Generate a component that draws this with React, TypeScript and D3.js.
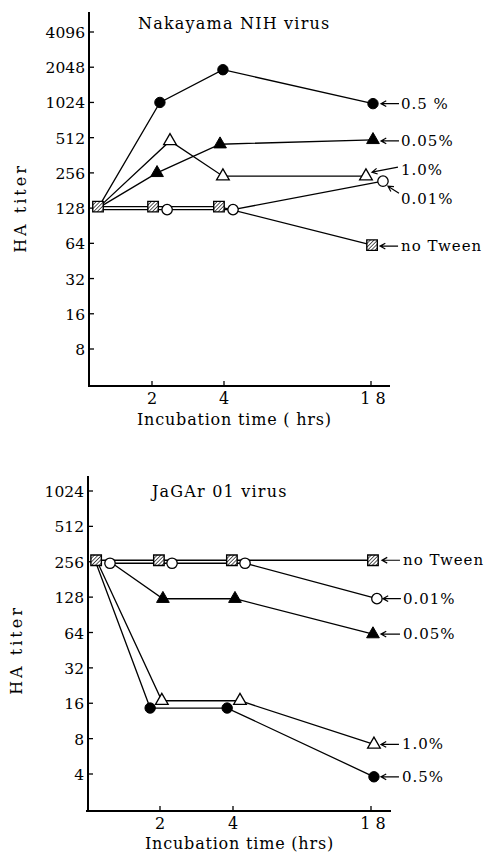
import React from "react";
import * as d3 from "d3";

// ---------- DATA ----------
// Nakayama NIH virus (times as plotted, hrs; HA titer)
const nihTime05 = [0.5, 2.22, 3.97, 18.19];
const nihTiter05 = [128, 1024, 1950, 1000];
const nihTime005 = [0.5, 2.14, 3.89, 18.19];
const nihTiter005 = [128, 256, 450, 490];
const nihTime10 = [0.5, 2.5, 3.97, 17.52];
const nihTiter10 = [128, 480, 240, 240];
const nihTime001 = [0.5, 2.42, 4.86, 19.14];
const nihTiter001 = [128, 128, 128, 224];
const nihTimeNone = [0.5, 2.03, 3.86, 18.1];
const nihTiterNone = [128, 128, 128, 60];

// JaGAr 01 virus
const jagTime05 = [0.25, 1.73, 3.84, 18.3];
const jagTiter05 = [256, 15, 15, 3.9];
const jagTime005 = [0.63, 2.08, 4.2, 18.2];
const jagTiter005 = [256, 124, 124, 62];
const jagTime10 = [0.25, 2.05, 4.71, 18.3];
const jagTiter10 = [256, 16, 16, 6.8];
const jagTime001 = [0.63, 2.33, 5.22, 18.6];
const jagTiter001 = [256, 256, 256, 128];
const jagTimeNone = [0.25, 1.97, 3.97, 18.2];
const jagTiterNone = [256, 256, 256, 256];

const nihLabels = ["0.5 %", "0.05%", "1.0%", "0.01%", "no Tween"];
const jagLabels = ["0.5%", "0.05%", "1.0%", "0.01%", "no Tween"];
const markerTypes = ["filledCircle", "filledTri", "openTri", "openCircle", "hatchSquare"];

const nihYTicks = [8, 16, 32, 64, 128, 256, 512, 1024, 2048, 4096];
const jagYTicks = [4, 8, 16, 32, 64, 128, 256, 512, 1024];
const xTickValues = [2, 4, 18];
const xTickLabels = ["2", "4", "1 8"];

// ---------- LAYOUT / STYLE ----------
const FONT = "'DejaVu Serif', 'Liberation Serif', 'Times New Roman', serif";

type LabelLayout = { hx: number; hy: number; tx: number; ty: number; lx: number; ly: number };

const nihLabelLayout: LabelLayout[] = [
  { hx: 8, hy: 0, tx: 26, ty: 0, lx: 28, ly: 5 },
  { hx: 8, hy: 1, tx: 26, ty: 1, lx: 28, ly: 6 },
  { hx: 6, hy: -4, tx: 32, ty: -9, lx: 35, ly: -1 },
  { hx: 5, hy: 5, tx: 16, ty: 12, lx: 18, ly: 23 },
  { hx: 8, hy: 1, tx: 26, ty: 1, lx: 29, ly: 6 },
];
const jagLabelLayout: LabelLayout[] = [
  { hx: 7, hy: 0, tx: 25, ty: 0, lx: 28, ly: 5 },
  { hx: 8, hy: 0, tx: 27, ty: 0, lx: 30, ly: 5 },
  { hx: 7, hy: 0, tx: 25, ty: 0, lx: 28, ly: 5 },
  { hx: 6, hy: 0, tx: 24, ty: 0, lx: 26, ly: 5 },
  { hx: 9, hy: 0, tx: 27, ty: 0, lx: 30, ly: 5 },
];
const nihDy = [0, 0, 0, 1.5, -1.5];
const jagDy = [1.5, 0, -2.5, 1.5, -1.5];
// whether a series draws its own marker at the starting point
const nihStartMarker = [false, false, false, false, true];
const jagStartMarker = [false, false, false, true, true];

type ChartCfg = {
  title: string;
  titleX: number;
  titleY: number;
  xLabel: string;
  xLabelX: number;
  xLabelY: number;
  yTitleX: number;
  yTitleY: number;
  axisX: number;
  axisTop: number;
  axisBottom: number;
  axisLeft: number;
  axisRight: number;
  xScale: d3.ScaleLinear<number, number>;
  yScale: d3.ScaleLogarithmic<number, number>;
  yTicks: number[];
  times: number[][];
  titers: number[][];
  labels: string[];
  labelLayout: LabelLayout[];
  dy: number[];
  startMarker: boolean[];
};

const nihChart: ChartCfg = {
  title: "Nakayama NIH virus",
  titleX: 138,
  titleY: 29,
  xLabel: "Incubation time ( hrs)",
  xLabelX: 137,
  xLabelY: 425,
  yTitleX: 26,
  yTitleY: 208,
  axisX: 89,
  axisTop: 12,
  axisBottom: 386,
  axisLeft: 88,
  axisRight: 390,
  xScale: d3.scaleLinear().domain([0, 4, 18]).range([80, 224, 371]),
  yScale: d3.scaleLog().base(2).domain([8, 4096]).range([349, 32]),
  yTicks: nihYTicks,
  times: [nihTime05, nihTime005, nihTime10, nihTime001, nihTimeNone],
  titers: [nihTiter05, nihTiter005, nihTiter10, nihTiter001, nihTiterNone],
  labels: nihLabels,
  labelLayout: nihLabelLayout,
  dy: nihDy,
  startMarker: nihStartMarker,
};

const jagChart: ChartCfg = {
  title: "JaGAr 01 virus",
  titleX: 152,
  titleY: 497,
  xLabel: "Incubation time (hrs)",
  xLabelX: 145,
  xLabelY: 849,
  yTitleX: 22,
  yTitleY: 650,
  axisX: 88,
  axisTop: 476,
  axisBottom: 811,
  axisLeft: 86,
  axisRight: 391,
  xScale: d3.scaleLinear().domain([0, 4, 18]).range([87, 233, 371]),
  yScale: d3.scaleLog().base(2).domain([4, 1024]).range([774, 491]),
  yTicks: jagYTicks,
  times: [jagTime05, jagTime005, jagTime10, jagTime001, jagTimeNone],
  titers: [jagTiter05, jagTiter005, jagTiter10, jagTiter001, jagTiterNone],
  labels: jagLabels,
  labelLayout: jagLabelLayout,
  dy: jagDy,
  startMarker: jagStartMarker,
};

const triPath = d3.symbol().type(d3.symbolTriangle).size(70)() as string;
const circPath = d3.symbol().type(d3.symbolCircle).size(85)() as string;
const sqPath = d3.symbol().type(d3.symbolSquare).size(110)() as string;

function Marker({ type, x, y }: { type: string; x: number; y: number }) {
  const t = `translate(${x},${y})`;
  if (type === "filledCircle") return <path d={circPath} transform={t} fill="#000" stroke="#000" strokeWidth={1} />;
  if (type === "openCircle") return <path d={circPath} transform={t} fill="#fff" stroke="#000" strokeWidth={1.3} />;
  if (type === "filledTri") return <path d={triPath} transform={t} fill="#000" stroke="#000" strokeWidth={1} />;
  if (type === "openTri") return <path d={triPath} transform={t} fill="#fff" stroke="#000" strokeWidth={1.3} />;
  return <path d={sqPath} transform={t} fill="url(#hatch)" stroke="#000" strokeWidth={1.4} />;
}

function Arrow({ hx, hy, tx, ty }: { hx: number; hy: number; tx: number; ty: number }) {
  const ang = Math.atan2(ty - hy, tx - hx);
  const a1 = ang + 0.5;
  const a2 = ang - 0.5;
  const L = 6;
  const d = `M${tx},${ty}L${hx},${hy}M${hx + L * Math.cos(a1)},${hy + L * Math.sin(a1)}L${hx},${hy}L${hx + L * Math.cos(a2)},${hy + L * Math.sin(a2)}`;
  return <path d={d} fill="none" stroke="#000" strokeWidth={1.2} />;
}

const textStyle = { fontFamily: FONT };

function Chart({ c }: { c: ChartCfg }) {
  const line = d3
    .line<[number, number]>()
    .x((d) => d[0])
    .y((d) => d[1]);
  const pts = c.times.map((ts, i) =>
    ts.map((t, j) => [c.xScale(t), c.yScale(c.titers[i][j]) + c.dy[i]] as [number, number])
  );
  return (
    <g style={textStyle} fill="#000">
      {/* axes */}
      <line x1={c.axisX} x2={c.axisX} y1={c.axisTop} y2={c.axisBottom + 1} stroke="#000" strokeWidth={2} />
      <line x1={c.axisLeft} x2={c.axisRight} y1={c.axisBottom} y2={c.axisBottom} stroke="#000" strokeWidth={2} />
      {c.yTicks.map((v) => (
        <g key={v}>
          <line x1={c.axisX} x2={c.axisX + 5} y1={c.yScale(v)} y2={c.yScale(v)} stroke="#000" strokeWidth={1.3} />
          <text x={c.axisX - 4} y={c.yScale(v) + 6} textAnchor="end" fontSize={15.5} style={textStyle}>
            {String(v)}
          </text>
        </g>
      ))}
      {xTickValues.map((v, i) => (
        <g key={v}>
          <line x1={c.xScale(v)} x2={c.xScale(v)} y1={c.axisBottom} y2={c.axisBottom - 5} stroke="#000" strokeWidth={1.3} />
          <text
            x={c.xScale(v) + (i === 2 ? 2 : 0)}
            y={c.axisBottom + 18}
            textAnchor="middle"
            fontSize={16}
            style={textStyle}
          >
            {xTickLabels[i]}
          </text>
        </g>
      ))}
      <text x={c.titleX} y={c.titleY} fontSize={16} letterSpacing={1.2} style={textStyle}>
        {c.title}
      </text>
      <text x={c.xLabelX} y={c.xLabelY} fontSize={16} letterSpacing={0.8} style={textStyle}>
        {c.xLabel}
      </text>
      <text
        transform={`translate(${c.yTitleX},${c.yTitleY}) rotate(-90)`}
        textAnchor="middle"
        fontSize={16}
        letterSpacing={3}
        style={textStyle}
      >
        HA titer
      </text>
      {/* lines */}
      {pts.map((p, i) => (
        <path key={"l" + i} d={line(p) as string} fill="none" stroke="#000" strokeWidth={1.3} />
      ))}
      {/* markers */}
      {pts.map((p, i) =>
        p.map((q, j) =>
          j === 0 && !c.startMarker[i] ? null : (
            <Marker key={"m" + i + "-" + j} type={markerTypes[i]} x={q[0]} y={q[1]} />
          )
        )
      )}
      {/* labels */}
      {pts.map((p, i) => {
        const last = p[p.length - 1];
        const L = c.labelLayout[i];
        return (
          <g key={"lab" + i}>
            <Arrow hx={last[0] + L.hx} hy={last[1] + L.hy} tx={last[0] + L.tx} ty={last[1] + L.ty} />
            <text x={last[0] + L.lx} y={last[1] + L.ly} fontSize={15} letterSpacing={1} style={textStyle}>
              {c.labels[i]}
            </text>
          </g>
        );
      })}
    </g>
  );
}

export default function App() {
  return (
    <svg
      width={490}
      height={854}
      viewBox="0 0 490 854"
      style={{ position: "absolute", left: 0, top: 0, background: "#fff" }}
    >
      <defs>
        <pattern id="hatch" width={2.6} height={2.6} patternUnits="userSpaceOnUse" patternTransform="rotate(45)">
          <rect width={2.6} height={2.6} fill="#fff" />
          <line x1={0} y1={0} x2={0} y2={2.6} stroke="#000" strokeWidth={1.3} />
        </pattern>
      </defs>
      <rect x={0} y={0} width={490} height={854} fill="#fff" />
      <Chart c={nihChart} />
      <Chart c={jagChart} />
    </svg>
  );
}
